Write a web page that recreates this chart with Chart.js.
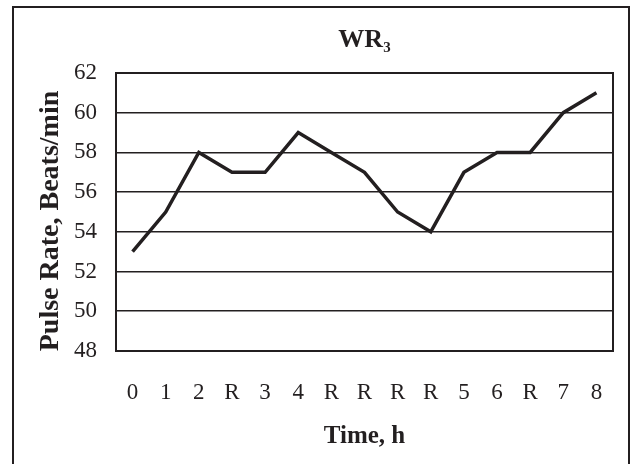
<!DOCTYPE html>
<html>
<head>
<meta charset="utf-8">
<script src="https://cdn.jsdelivr.net/npm/chart.js@4"></script>
<style>
  html, body { margin: 0; padding: 0; background: #fff; }
  #wrap { position: relative; width: 633px; height: 464px; overflow: hidden; }
  #frame { position: absolute; left: 12px; top: 6px; width: 618px; height: 480px;
           border: 2px solid #231f20; border-bottom: none; box-sizing: border-box; }
  canvas { position: absolute; left: 0; top: 0; }
</style>
</head>
<body>
<div id="wrap">
  <div id="frame"></div>
  <canvas id="chart" width="633" height="464"></canvas>
</div>
<script>
const timeLabels = ['0', '1', '2', 'R', '3', '4', 'R', 'R', 'R', 'R', '5', '6', 'R', '7', '8'];
const pulseRate = [53, 55, 58, 57, 57, 59, 58, 57, 55, 54, 57, 58, 58, 60, 61];
const yMin = 48;
const yMax = 62;
const yStep = 2;

const chartTitle = 'WR';
const chartTitleSub = '3';
const yTitle = 'Pulse Rate, Beats/min';

const INK = '#231f20';
const SERIF = '"Liberation Serif", "Times New Roman", serif';

// plot outline, title with subscript, and the y axis title
const decorations = {
  id: 'decorations',
  afterDraw(chart) {
    const { ctx, chartArea: a } = chart;
    ctx.save();
    ctx.strokeStyle = INK;
    ctx.lineWidth = 2;
    ctx.strokeRect(a.left, a.top, a.right - a.left, a.bottom - a.top);

    // title centred over the plot
    ctx.fillStyle = INK;
    ctx.textBaseline = 'alphabetic';
    ctx.textAlign = 'left';
    ctx.font = 'bold 26px ' + SERIF;
    const wMain = ctx.measureText(chartTitle).width;
    ctx.font = 'bold 15px ' + SERIF;
    const wSub = ctx.measureText(chartTitleSub).width;
    const x0 = (a.left + a.right) / 2 - (wMain + wSub) / 2;
    ctx.font = 'bold 26px ' + SERIF;
    ctx.fillText(chartTitle, x0, 47);
    ctx.font = 'bold 15px ' + SERIF;
    ctx.fillText(chartTitleSub, x0 + wMain, 52);

    // rotated y title
    ctx.translate(58, 221);
    ctx.rotate(-Math.PI / 2);
    ctx.textAlign = 'center';
    ctx.font = 'bold 28px ' + SERIF;
    ctx.fillText(yTitle, 0, 0);
    ctx.restore();
  }
};

new Chart(document.getElementById('chart'), {
  type: 'line',
  data: {
    labels: timeLabels,
    datasets: [{
      data: pulseRate,
      borderColor: INK,
      borderWidth: 3.5,
      pointRadius: 0,
      tension: 0,
      fill: false
    }]
  },
  options: {
    responsive: false,
    animation: false,
    layout: { padding: { left: 0, right: 20, top: 73, bottom: 0 } },
    plugins: {
      legend: { display: false },
      tooltip: { enabled: false },
      title: { display: false }
    },
    scales: {
      x: {
        offset: true,
        grid: { display: false, drawTicks: false },
        border: { display: false },
        ticks: { color: INK, padding: 28, maxRotation: 0, autoSkip: false,
                 font: { family: SERIF, size: 23 } },
        title: { display: true, text: 'Time, h', color: INK,
                 font: { family: SERIF, size: 25, weight: 'bold', lineHeight: 1.2 },
                 padding: { top: 0, bottom: 12 } },
        afterFit: s => { s.height = 113; }
      },
      y: {
        min: yMin,
        max: yMax,
        grid: { color: INK, lineWidth: 1.6, drawTicks: false },
        border: { display: false },
        ticks: { stepSize: yStep, color: INK, padding: 19,
                 font: { family: SERIF, size: 23 } },
        afterFit: s => { s.width = 116; }
      }
    }
  },
  plugins: [decorations]
});
</script>
</body>
</html>
